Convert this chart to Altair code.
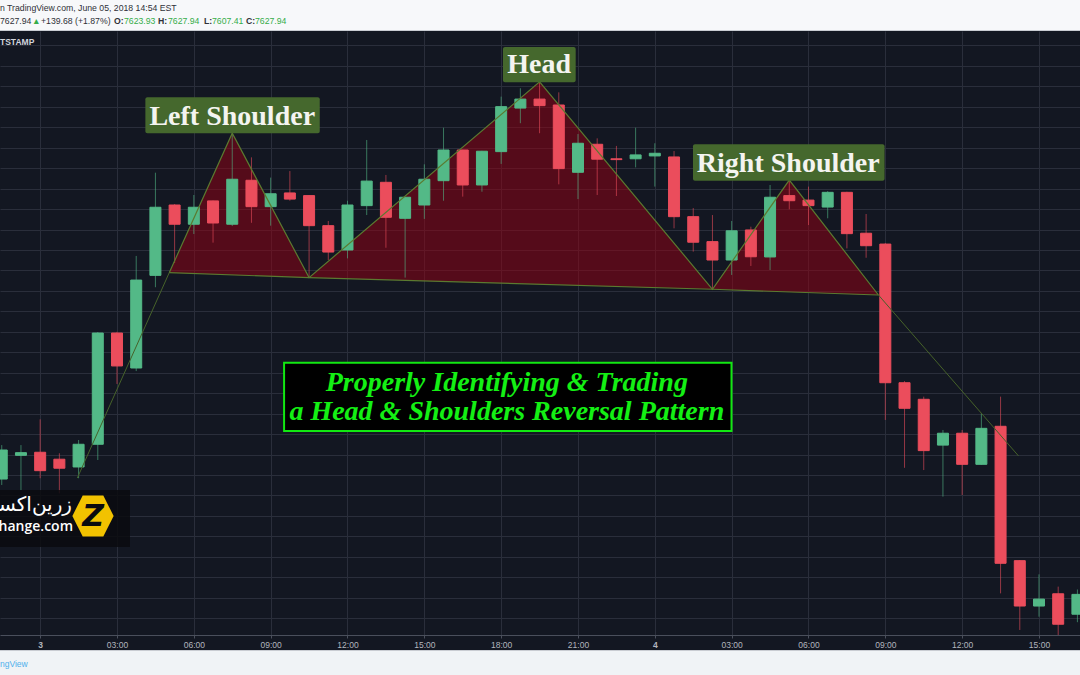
import altair as alt
import pandas as pd

# ---------------- data ----------------
# candle time in hours from 00:00 on the 3rd (45-minute candles)
hours = [-1.5, -0.75, 0, 0.75, 1.5, 2.25, 3, 3.75, 4.5, 5.25, 6, 6.75, 7.5, 8.25,
         9, 9.75, 10.5, 11.25, 12, 12.75, 13.5, 14.25, 15, 15.75, 16.5, 17.25, 18,
         18.75, 19.5, 20.25, 21, 21.75, 22.5, 23.25, 24, 24.75, 25.5, 26.25, 27,
         27.75, 28.5, 29.25, 30, 30.75, 31.5, 32.25, 33, 33.75, 34.5, 35.25, 36,
         36.75, 37.5, 38.25, 39, 39.75, 40.5]
opens = [7568.0, 7579.6, 7581.1, 7577.7, 7573.9, 7585.0, 7639.4, 7622.3, 7667.6, 7702.0,
         7692.6, 7704.0, 7692.6, 7714.1, 7701.2, 7707.9, 7706.6, 7691.9, 7680.0, 7701.7,
         7713.1, 7695.5, 7702.0, 7713.9, 7728.9, 7711.8, 7728.1, 7749.4, 7753.8, 7750.9,
         7718.0, 7731.7, 7724.6, 7724.6, 7726.0, 7725.5, 7696.3, 7684.1, 7675.1, 7689.8,
         7676.6, 7706.6, 7704.4, 7701.0, 7708.2, 7688.2, 7682.9, 7615.1, 7607.0, 7584.6,
         7590.4, 7575.2, 7593.8, 7528.1, 7505.9, 7511.9, 7501.9]
highs = [7584.6, 7584.6, 7597.2, 7580.6, 7587.1, 7639.9, 7640.0, 7677.1, 7717.8, 7702.5,
         7706.9, 7704.2, 7737.1, 7725.3, 7715.4, 7718.6, 7706.8, 7694.2, 7704.1, 7733.8,
         7716.7, 7706.0, 7721.9, 7739.8, 7729.0, 7728.5, 7755.0, 7759.1, 7762.2, 7757.1,
         7736.7, 7734.6, 7730.9, 7739.8, 7732.2, 7728.4, 7700.5, 7697.1, 7694.2, 7691.4,
         7711.8, 7714.2, 7711.0, 7708.8, 7708.5, 7697.6, 7683.4, 7615.9, 7608.3, 7592.0,
         7592.0, 7600.1, 7608.3, 7528.4, 7521.4, 7515.4, 7514.0]
lows = [7565.1, 7562.6, 7568.4, 7561.0, 7568.4, 7577.3, 7614.5, 7620.8, 7661.8, 7673.6,
        7687.8, 7683.6, 7691.7, 7693.3, 7691.9, 7704.1, 7666.5, 7675.1, 7675.9, 7697.1,
        7681.1, 7666.5, 7695.2, 7704.1, 7706.1, 7708.5, 7722.1, 7742.0, 7737.1, 7712.1,
        7704.9, 7706.9, 7706.4, 7720.4, 7711.0, 7690.6, 7679.2, 7660.8, 7667.8, 7672.2,
        7670.2, 7699.9, 7692.2, 7695.5, 7680.8, 7676.2, 7596.9, 7573.5, 7572.4, 7559.4,
        7560.2, 7575.0, 7512.1, 7494.2, 7500.7, 7491.7, 7498.0]
closes = [7582.2, 7580.9, 7572.1, 7573.3, 7585.0, 7639.4, 7623.3, 7665.3, 7700.9, 7692.6,
          7700.9, 7693.2, 7714.6, 7701.2, 7707.5, 7704.9, 7691.9, 7679.0, 7702.0, 7713.7,
          7696.0, 7705.8, 7714.6, 7728.9, 7711.8, 7728.3, 7750.1, 7753.8, 7750.6, 7719.8,
          7732.2, 7724.4, 7724.2, 7726.5, 7727.3, 7696.3, 7683.8, 7675.1, 7689.4, 7676.7,
          7705.8, 7704.1, 7701.7, 7708.2, 7688.0, 7682.1, 7615.1, 7602.6, 7581.9, 7590.4,
          7575.2, 7592.8, 7526.8, 7505.9, 7509.3, 7497.0, 7511.6]

tick_hours = [0, 3, 6, 9, 12, 15, 18, 21, 24, 27, 30, 33, 36, 39]
tick_labels = ["3", "03:00", "06:00", "09:00", "12:00", "15:00", "18:00", "21:00",
               "4", "03:00", "06:00", "09:00", "12:00", "15:00"]
grid_prices = [7500, 7510, 7520, 7530, 7540, 7550, 7560, 7570, 7580, 7590, 7600, 7610,
               7620, 7630, 7640, 7650, 7660, 7670, 7680, 7690, 7700, 7710, 7720, 7730,
               7740, 7750, 7760, 7770, 7780]

# head & shoulders drawing (peaks and neckline points)
zig_h = [5.04, 7.5, 10.5, 19.5, 26.25, 29.25, 32.73]
zig_p = [7668.9, 7737.1, 7666.5, 7762.2, 7660.8, 7714.2, 7658.0]
apex_base = [7667.8, 7663.2, 7659.5]
neck_h = [5.04, 10.5, 26.25, 32.73]
neck_p = [7668.9, 7666.5, 7660.8, 7658.0]
rise_h = [1.45, 5.04]
rise_p = [7568.5, 7668.9]
break_h = [32.73, 38.2]
break_p = [7658.0, 7579.3]

label_text = ["Left Shoulder", "Head", "Right Shoulder"]
label_h = [7.5, 19.48, 29.21]
label_base = [7741.1, 7766.4, 7718.0]
box_h0 = [4.108, 18.07, 25.49]
box_h1 = [10.917, 20.91, 32.97]
box_top = [7754.7, 7779.3, 7731.7]
box_bottom = [7737.1, 7762.0, 7713.9]

title_lines = ["Properly Identifying & Trading", "a Head & Shoulders Reversal Pattern"]
title_h = [18.22, 18.22]
title_base = [7610.9, 7596.7]
title_box_h = [9.524, 26.994]
title_box_p = [7624.9, 7591.5]

# ---------------- tables ----------------
candles = pd.DataFrame({"h": hours, "open": opens, "high": highs, "low": lows, "close": closes})

tri_rows = []
for i in range(3):
    tri_rows.append({"shape": i, "h": zig_h[2 * i], "p": zig_p[2 * i], "base": zig_p[2 * i]})
    tri_rows.append({"shape": i, "h": zig_h[2 * i + 1], "p": zig_p[2 * i + 1], "base": apex_base[i]})
    tri_rows.append({"shape": i, "h": zig_h[2 * i + 2], "p": zig_p[2 * i + 2], "base": zig_p[2 * i + 2]})
tri = pd.DataFrame(tri_rows)

main_lines = pd.DataFrame(
    [{"seg": "zig", "ord": j, "h": a, "p": b} for j, (a, b) in enumerate(zip(zig_h, zig_p))]
    + [{"seg": "neck", "ord": j, "h": a, "p": b} for j, (a, b) in enumerate(zip(neck_h, neck_p))]
)
side_lines = pd.DataFrame(
    [{"seg": "rise", "ord": j, "h": a, "p": b} for j, (a, b) in enumerate(zip(rise_h, rise_p))]
    + [{"seg": "break", "ord": j, "h": a, "p": b} for j, (a, b) in enumerate(zip(break_h, break_p))]
)
labels = pd.DataFrame({"label": label_text, "h": label_h, "p": label_base,
                       "h0": box_h0, "h1": box_h1, "p0": box_top, "p1": box_bottom})
titles = pd.DataFrame({"line": title_lines, "h": title_h, "p": title_base})
title_box = pd.DataFrame({"h0": [title_box_h[0]], "h1": [title_box_h[1]],
                          "p0": [title_box_p[0]], "p1": [title_box_p[1]]})

# ---------------- scales / axes ----------------
BG = "#131722"
GRID = "#2a2e3b"
UP = "#53b987"
DOWN = "#eb4d5c"

x_scale = alt.Scale(domain=[-1.373, 40.406], nice=False, zero=False)
y_scale = alt.Scale(domain=[7491.74, 7787.09], nice=False, zero=False)

label_array = "[" + ",".join("'" + t + "'" for t in tick_labels) + "]"
x_axis = alt.Axis(values=tick_hours, labelExpr=label_array + "[round(datum.value / 3)]",
                  grid=True, gridColor=GRID, gridWidth=1, domainColor="#4a4f5c",
                  tickColor="#4a4f5c", tickSize=3, labelColor="#b2b5be",
                  labelFontSize=8.5, labelFont="Liberation Sans", labelPadding=2,
                  labelFlush=False, labelOverlap=False, title="",
                  labelFontWeight={"condition": {"test": "datum.value % 24 === 0", "value": "bold"},
                                   "value": "normal"})
y_axis = alt.Axis(values=grid_prices, labels=False, ticks=False, domain=False, grid=True,
                  gridColor=GRID, gridWidth=1, title="")

def X(field):
    return alt.X(field, type="quantitative", scale=x_scale, axis=x_axis)

def Y(field):
    return alt.Y(field, type="quantitative", scale=y_scale, axis=y_axis)

updown = alt.condition("datum.close >= datum.open", alt.value(UP), alt.value(DOWN))

# ---------------- layers ----------------
fill = alt.Chart(tri).mark_area(color="#980012", opacity=0.5).encode(
    x=X("h"), y=Y("p"), y2="base:Q", detail="shape:N")

wicks = alt.Chart(candles).mark_rule(strokeWidth=1, opacity=0.6).encode(
    x=X("h"), y=Y("low"), y2="high:Q", color=updown)

bodies = alt.Chart(candles).mark_bar(size=11, strokeWidth=1).encode(
    x=X("h"), y=Y("open"), y2="close:Q", color=updown, stroke=updown)

outline = alt.Chart(main_lines).mark_line(color="#5b7a30", strokeWidth=1.2).encode(
    x=X("h"), y=Y("p"), detail="seg:N", order="ord:Q")

side = alt.Chart(side_lines).mark_line(color="#46622a", strokeWidth=1).encode(
    x=X("h"), y=Y("p"), detail="seg:N", order="ord:Q")

label_boxes = alt.Chart(labels).mark_rect(color="#45682d", cornerRadius=2).encode(
    x=X("h0"), x2="h1:Q", y=Y("p0"), y2="p1:Q")

label_texts = alt.Chart(labels).mark_text(
    font="Liberation Serif", fontSize=28, fontWeight="bold", color="#f4f4f0",
    align="center", baseline="alphabetic").encode(x=X("h"), y=Y("p"), text="label:N")

tbox = alt.Chart(title_box).mark_rect(fill="#000000", stroke="#12e812", strokeWidth=2).encode(
    x=X("h0"), x2="h1:Q", y=Y("p0"), y2="p1:Q")

ttext = alt.Chart(titles).mark_text(
    font="Liberation Serif", fontSize=28, fontWeight="bold", fontStyle="italic",
    color="#14f014", align="center", baseline="alphabetic").encode(
    x=X("h"), y=Y("p"), text="line:N")

# ---------------- frame overlays (page furniture) ----------------
one = pd.DataFrame({"a": [0]})

def prect(x0, x1, y0, y1, **kw):
    return alt.Chart(one).mark_rect(**kw).encode(
        x=alt.value(x0), x2=alt.value(x1), y=alt.value(y0), y2=alt.value(y1))

def ptext(txt, x, y, **kw):
    return alt.Chart(one).mark_text(**kw).encode(
        x=alt.value(x), y=alt.value(y), text=alt.value(txt))

header_bg = prect(0, 1080, -31, 0, color="#f7f8fa")
header_sep = prect(0, 1080, -1, 0, color="#c9ccd2")
footer_bg = prect(0, 1080, 619, 644, color="#f0f3f6")
footer_sep = prect(0, 1080, 619, 620, color="#c9ccd2")

DARK = "#2f3138"
GREEN = "#35ad4a"
hfont = dict(font="Liberation Sans", fontSize=8.7, align="left", baseline="middle")
header_items = [
    ptext("n TradingView.com, June 05, 2018 14:54 EST", 0, -23, color=DARK, **hfont),
    ptext("7627.94", 0, -10, color=DARK, **hfont),
    ptext("\u25b2", 32, -10, color=GREEN, **hfont),
    ptext("+139.68 (+1.87%)", 41, -10, color=DARK, **hfont),
    ptext("O:", 114, -10, color=DARK, fontWeight="bold", **hfont),
    ptext("7623.93", 124, -10, color=GREEN, **hfont),
    ptext("H:", 158, -10, color=DARK, fontWeight="bold", **hfont),
    ptext("7627.94", 168, -10, color=GREEN, **hfont),
    ptext("L:", 204, -10, color=DARK, fontWeight="bold", **hfont),
    ptext("7607.41", 212, -10, color=GREEN, **hfont),
    ptext("C:", 246, -10, color=DARK, fontWeight="bold", **hfont),
    ptext("7627.94", 255, -10, color=GREEN, **hfont),
    ptext("TSTAMP", 0, 11, color="#d1d4dc", fontWeight="bold", font="Liberation Sans",
          fontSize=8.5, align="left", baseline="middle"),
    ptext("ngView", 0, 633, color="#4fb0ec", font="Liberation Sans", fontSize=8.5,
          align="left", baseline="middle"),
]

hexpath = "M-0.5,-1 L0.5,-1 L1,0 L0.5,1 L-0.5,1 L-1,0 Z"
wm_box = prect(0, 130, 459, 516, color="#0a0b0f", opacity=0.85)
wm_fa = ptext("زرین‌اکسچنج", 72, 474, color="#ffffff", font="DejaVu Sans", fontSize=20,
              align="right", baseline="middle")
wm_en = ptext("zarinexchange.com", 73, 496, color="#ffffff", font="Open Sans", fontSize=14,
              fontWeight=600, align="right", baseline="middle")
wm_logo = alt.Chart(one).mark_point(shape=hexpath, size=1700, filled=True, opacity=1,
                                    color="#f2c200").encode(x=alt.value(93), y=alt.value(485))
wm_z = ptext("Z", 93, 486, color="#0a0b0f", font="DejaVu Sans", fontSize=30, fontWeight="bold",
             fontStyle="italic", align="center", baseline="middle")

chart = alt.layer(
    fill, wicks, bodies, outline, side, label_boxes, label_texts, tbox, ttext,
    wm_box, wm_fa, wm_en, wm_logo, wm_z,
    footer_bg, footer_sep, header_bg, header_sep, *header_items
).properties(
    width=1080, height=604,
    padding={"left": 0, "right": 0, "top": 31, "bottom": 40},
    autosize=alt.AutoSizeParams(type="none"),
    background=BG,
).configure_view(stroke=None)

chart.save("out.html", embed_options={"renderer": "svg", "actions": False})
